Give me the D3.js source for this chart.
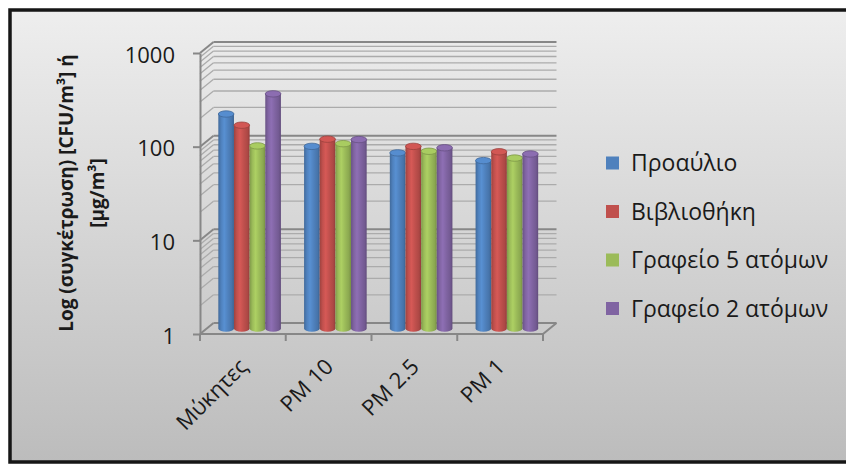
<!DOCTYPE html>
<html>
<head>
<meta charset="utf-8">
<script src="https://cdn.jsdelivr.net/npm/d3@7"></script>
<style>
  body { margin: 0; background: #ffffff; }
  svg { display: block; }
</style>
</head>
<body>
<svg id="chart" width="846" height="464"></svg>
<script>
// Categories, series and axis ticks
const categories = ["Μύκητες", "PM 10", "PM 2.5", "PM 1"];
const seriesNames = ["Προαύλιο", "Βιβλιοθήκη", "Γραφείο 5 ατόμων", "Γραφείο 2 ατόμων"];
const proavlio   = [195, 88, 75, 62];
const vivliothiki = [148, 105, 88, 77];
const grafeio5   = [89, 94, 78, 66];
const grafeio2   = [320, 104, 85, 73];
const seriesValues = [proavlio, vivliothiki, grafeio5, grafeio2];
const seriesColors = ["#4f81bd", "#c0504d", "#9bbb59", "#8064a2"];
const yTickValues = [1, 10, 100, 1000];

const svg = d3.select("#chart");
const W = 846, H = 464;
const FONT = "'Open Sans', 'Noto Sans', sans-serif";
const TEXT = "#1a1a1a";

// ---- background & frame ----
const defs = svg.append("defs");
const bg = defs.append("linearGradient").attr("id", "bgGrad")
  .attr("x1", 0).attr("y1", 0).attr("x2", 0).attr("y2", 1);
bg.append("stop").attr("offset", "0%").attr("stop-color", "#eeeeee");
bg.append("stop").attr("offset", "100%").attr("stop-color", "#bcbcbc");

svg.append("rect").attr("x", 10).attr("y", 10).attr("width", W).attr("height", 452)
  .attr("fill", "url(#bgGrad)").attr("stroke", "#161616").attr("stroke-width", 3.5);

// ---- 3D geometry ----
const front = { x0: 200, x1: 543 };
const depth = { dx: 13.5, dy: -11 };           // back wall offset
const mid = { dx: depth.dx / 2, dy: depth.dy / 2 }; // plane of the columns

const y = d3.scaleLog().domain([1, 1000]).range([334, 53]);
const x = d3.scaleBand().domain(categories).range([front.x0, front.x1])
  .paddingInner(0.27).paddingOuter(0.135);
const xs = d3.scaleBand().domain(seriesNames).range([0, x.bandwidth()]);

const grid = svg.append("g");
const gridValues = y.ticks();
const isMajor = v => yTickValues.includes(v);

// back wall gridlines
grid.selectAll("line.back").data(gridValues).join("line")
  .attr("class", "back")
  .attr("x1", front.x0 + depth.dx).attr("x2", front.x1 + depth.dx)
  .attr("y1", d => y(d) + depth.dy).attr("y2", d => y(d) + depth.dy)
  .attr("stroke", d => isMajor(d) ? "#878787" : "#ababab")
  .attr("stroke-width", d => isMajor(d) ? 2 : 1.3);

// side wall gridlines
grid.selectAll("line.side").data(gridValues).join("line")
  .attr("class", "side")
  .attr("x1", front.x0).attr("x2", front.x0 + depth.dx)
  .attr("y1", d => y(d)).attr("y2", d => y(d) + depth.dy)
  .attr("stroke", d => isMajor(d) ? "#878787" : "#ababab")
  .attr("stroke-width", d => isMajor(d) ? 2 : 1.3);

// floor edges
const floorY = y(1);
grid.append("path")
  .attr("d", `M${front.x0},${floorY} L${front.x1},${floorY} L${front.x1 + depth.dx},${floorY + depth.dy}`)
  .attr("fill", "none").attr("stroke", "#878787").attr("stroke-width", 2);

// category boundary ticks
const step = x.step();
grid.selectAll("line.ctick").data(d3.range(categories.length + 1)).join("line")
  .attr("class", "ctick")
  .attr("x1", i => front.x0 + i * step).attr("x2", i => front.x0 + i * step)
  .attr("y1", floorY).attr("y2", floorY + 7)
  .attr("stroke", "#878787").attr("stroke-width", 2);

// ---- value axis ----
const yAxis = d3.axisLeft(y).tickValues(yTickValues).tickFormat(d3.format("d"))
  .tickSize(7).tickSizeOuter(0).tickPadding(18);
const ya = svg.append("g").attr("transform", `translate(${front.x0},0)`).call(yAxis);
ya.select(".domain").attr("stroke", "#878787").attr("stroke-width", 2);
ya.selectAll(".tick line").attr("stroke", "#878787").attr("stroke-width", 2);
ya.selectAll(".tick text").attr("font-family", FONT).attr("font-size", 22)
  .attr("fill", TEXT).attr("dy", "0.42em");

// ---- cylinder columns ----
seriesColors.forEach((c, i) => {
  const base = d3.color(c);
  const g = defs.append("linearGradient").attr("id", "cyl" + i)
    .attr("x1", 0).attr("y1", 0).attr("x2", 1).attr("y2", 0);
  [[0, base.darker(0.55)], [0.18, base], [0.38, base.brighter(0.3)],
   [0.62, base], [0.86, base.darker(0.3)], [1, base.darker(0.75)]]
    .forEach(([o, col]) => g.append("stop").attr("offset", o).attr("stop-color", col.formatHex()));
});

const ry = 3.2;
const baseY = y(1) + mid.dy;
const bars = [];
categories.forEach((cat, ci) => {
  seriesNames.forEach((s, si) => {
    bars.push({ cat, s, si, v: seriesValues[si][ci] });
  });
});

const barG = svg.append("g");
const bar = barG.selectAll("g.bar").data(bars).join("g").attr("class", "bar");
bar.append("path")
  .attr("d", d => {
    const xl = x(d.cat) + xs(d.s) + mid.dx, w = xs.bandwidth();
    const yt = y(d.v) + mid.dy;
    return `M${xl},${yt} L${xl},${baseY} A${w / 2},${ry} 0 0 0 ${xl + w},${baseY} L${xl + w},${yt} Z`;
  })
  .attr("fill", d => `url(#cyl${d.si})`);
bar.append("ellipse")
  .attr("cx", d => x(d.cat) + xs(d.s) + mid.dx + xs.bandwidth() / 2)
  .attr("cy", d => y(d.v) + mid.dy)
  .attr("rx", xs.bandwidth() / 2).attr("ry", ry)
  .attr("fill", d => d3.color(seriesColors[d.si]).brighter(0.25).formatHex())
  .attr("stroke", d => d3.color(seriesColors[d.si]).darker(0.6).formatHex())
  .attr("stroke-width", 0.8);

// ---- category labels ----
svg.append("g").selectAll("text").data(categories).join("text")
  .attr("transform", d => `translate(${x(d) + x.bandwidth() / 2 + 6},368) rotate(-45)`)
  .attr("text-anchor", "end")
  .attr("font-family", FONT).attr("font-size", 22).attr("fill", TEXT)
  .text(d => d);

// ---- axis title ----
const title = svg.append("g").attr("transform", "translate(0,193) rotate(-90)")
  .attr("font-family", FONT).attr("font-weight", "bold").attr("font-size", 19)
  .attr("fill", TEXT).attr("text-anchor", "middle");
title.append("text").attr("x", 0).attr("y", 73).text("Log (συγκέτρωση) [CFU/m³] ή");
title.append("text").attr("x", 0).attr("y", 104).text("[μg/m³]");

// ---- legend ----
const legend = svg.append("g").selectAll("g").data(seriesNames).join("g")
  .attr("transform", (d, i) => `translate(606,${163 + i * 48.5})`);
legend.append("rect").attr("x", 0).attr("y", -6.5).attr("width", 13).attr("height", 13)
  .attr("fill", (d, i) => seriesColors[i]);
legend.append("text").attr("x", 25).attr("y", 0).attr("dy", "0.36em")
  .attr("font-family", FONT).attr("font-size", 23).attr("fill", TEXT)
  .text(d => d);
</script>
</body>
</html>
